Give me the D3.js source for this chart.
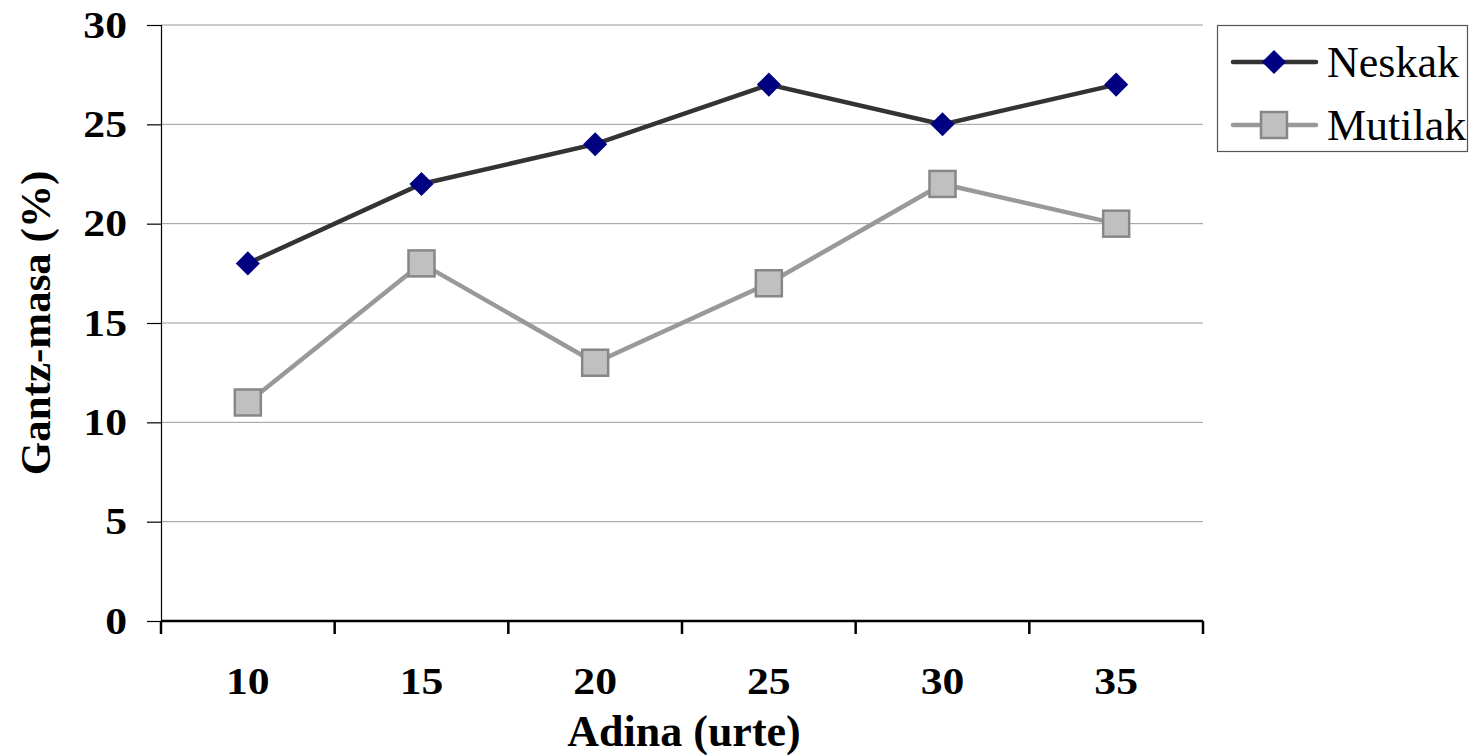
<!DOCTYPE html>
<html>
<head>
<meta charset="utf-8">
<script src="https://cdn.jsdelivr.net/npm/d3@7"></script>
<style>
  html, body { margin: 0; padding: 0; background: #fff; }
  svg { display: block; font-family: "Liberation Serif", "Times New Roman", serif; }
</style>
</head>
<body>
<svg id="chart" width="1469" height="755"></svg>
<script>
// Age groups (years) and body-fat percentages
const ages = ["10", "15", "20", "25", "30", "35"];
const neskak = [18, 22, 24, 27, 25, 27];
const mutilak = [11, 18, 13, 17, 22, 20];
const yTicks = [0, 5, 10, 15, 20, 25, 30];
const seriesNames = ["Neskak", "Mutilak"];

const svg = d3.select("#chart");
const plot = { left: 161, right: 1203, top: 25, bottom: 621 };

const x = d3.scaleBand().domain(ages).range([plot.left, plot.right]).padding(0);
const y = d3.scaleLinear().domain([0, 30]).range([plot.bottom, plot.top]);
const cx = d => x(d) + x.bandwidth() / 2;

// Horizontal gridlines
svg.append("g")
  .selectAll("line")
  .data(yTicks.filter(t => t > 0))
  .join("line")
  .attr("x1", plot.left).attr("x2", plot.right)
  .attr("y1", d => y(d)).attr("y2", d => y(d))
  .attr("stroke", "#9a9a9a").attr("stroke-width", 1);

// Y axis
const yAxis = svg.append("g")
  .attr("transform", `translate(${plot.left},0)`)
  .call(d3.axisLeft(y).tickValues(yTicks).tickSize(14).tickPadding(0));
yAxis.select(".domain").attr("stroke", "#000").attr("stroke-width", 1.2);
yAxis.selectAll(".tick line").attr("stroke", "#000").attr("stroke-width", 1.2);
// wide bold digits: right edge sits 34px left of the axis
yAxis.selectAll(".tick text")
  .attr("x", null)
  .attr("transform", "translate(-34,0) scale(1.15,1)")
  .attr("font-family", "Liberation Serif, serif")
  .attr("font-weight", "bold").attr("font-size", 38).attr("fill", "#000");

// X axis: ticks on category boundaries, labels centred in each band
const xAxisG = svg.append("g").attr("transform", `translate(0,${plot.bottom})`);
xAxisG.append("line")
  .attr("x1", plot.left).attr("x2", plot.right)
  .attr("stroke", "#000").attr("stroke-width", 2.5);
const bounds = ages.map(a => x(a)).concat([plot.right]);
xAxisG.selectAll("line.tick")
  .data(bounds)
  .join("line").attr("class", "tick")
  .attr("x1", d => d).attr("x2", d => d)
  .attr("y1", 0).attr("y2", 13)
  .attr("stroke", "#000").attr("stroke-width", 2.5);
xAxisG.selectAll("text")
  .data(ages)
  .join("text")
  .attr("transform", d => `translate(${cx(d)},60) scale(1.15,1)`)
  .attr("dy", "0.35em")
  .attr("text-anchor", "middle")
  .attr("font-weight", "bold").attr("font-size", 38)
  .text(d => d);

// Axis titles
svg.append("text")
  .attr("x", 684).attr("y", 746)
  .attr("text-anchor", "middle")
  .attr("font-weight", "bold").attr("font-size", 44)
  .text("Adina (urte)");
svg.append("text")
  .attr("transform", `translate(35,323) rotate(-90)`)
  .attr("dy", "0.35em").attr("text-anchor", "middle")
  .attr("font-weight", "bold").attr("font-size", 43)
  .text("Gantz-masa (%)");

const line = d3.line().x((d, i) => cx(ages[i])).y(d => y(d));

// Mutilak series (grey squares)
svg.append("path").datum(mutilak)
  .attr("d", line).attr("fill", "none")
  .attr("stroke", "#999999").attr("stroke-width", 4.5);
const sq = 26;
svg.append("g").selectAll("rect")
  .data(mutilak)
  .join("rect")
  .attr("x", (d, i) => cx(ages[i]) - sq / 2)
  .attr("y", d => y(d) - sq / 2)
  .attr("width", sq).attr("height", sq)
  .attr("fill", "#c0c0c0").attr("stroke", "#878787").attr("stroke-width", 2.5);

// Neskak series (navy diamonds)
svg.append("path").datum(neskak)
  .attr("d", line).attr("fill", "none")
  .attr("stroke", "#333333").attr("stroke-width", 4.5);
const diamond = d3.symbol().type(d3.symbolSquare).size(290);
svg.append("g").selectAll("path")
  .data(neskak)
  .join("path")
  .attr("d", diamond)
  .attr("transform", (d, i) => `translate(${cx(ages[i])},${y(d)}) rotate(45)`)
  .attr("fill", "#000080");

// Legend
const legend = svg.append("g");
legend.append("rect")
  .attr("x", 1217.5).attr("y", 25.5)
  .attr("width", 250).attr("height", 126)
  .attr("fill", "#fff").attr("stroke", "#555").attr("stroke-width", 1.2);
const legendRows = [
  { name: seriesNames[0], y: 62, color: "#333333" },
  { name: seriesNames[1], y: 125, color: "#999999" }
];
legendRows.forEach((r, i) => {
  legend.append("line")
    .attr("x1", 1233).attr("x2", 1316)
    .attr("y1", r.y).attr("y2", r.y)
    .attr("stroke", r.color).attr("stroke-width", 4.5)
    .attr("stroke-linecap", "round");
  if (i === 0) {
    legend.append("path").attr("d", diamond)
      .attr("transform", `translate(1274,${r.y}) rotate(45)`)
      .attr("fill", "#000080");
  } else {
    legend.append("rect")
      .attr("x", 1274 - sq / 2).attr("y", r.y - sq / 2)
      .attr("width", sq).attr("height", sq)
      .attr("fill", "#c0c0c0").attr("stroke", "#878787").attr("stroke-width", 2.5);
  }
  legend.append("text")
    .attr("x", 1327).attr("y", r.y)
    .attr("dy", "0.35em")
    .attr("font-size", 44)
    .text(r.name);
});
</script>
</body>
</html>
